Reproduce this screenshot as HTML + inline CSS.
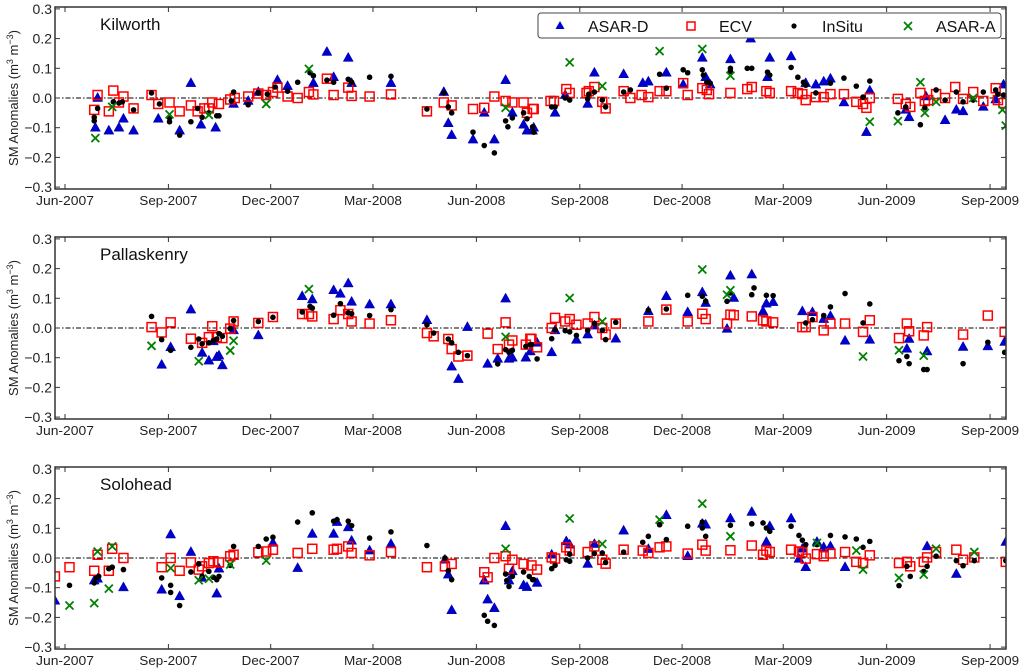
<!DOCTYPE html>
<html><head><meta charset="utf-8"><style>
html,body{margin:0;padding:0;background:#fff;}
svg{display:block;font-family:"Liberation Sans",sans-serif;}
</style></head><body>
<svg id="chart" width="1024" height="670" viewBox="0 0 1024 670" xmlns="http://www.w3.org/2000/svg"></svg>
<script>
// ---------- DATA (day = days since 1 Jun 2007, value = m3/m3 anomaly) ----------
const siteNames = ["Kilworth", "Pallaskenry", "Solohead"];
const xTickDays = [0, 92, 183, 274, 366, 458, 549, 639, 731, 823];
const xTickLabels = ["Jun-2007","Sep-2007","Dec-2007","Mar-2008","Jun-2008","Sep-2008","Dec-2008","Mar-2009","Jun-2009","Sep-2009"];
const yTickValues = [-0.3,-0.2,-0.1,0.0,0.1,0.2,0.3];
const yTickLabels = ["\u22120.3","\u22120.2","\u22120.1","0.0","0.1","0.2","0.3"];

// Kilworth
const k_asarD = [[27,-0.10],[29,0.0],[39,-0.11],[48,-0.10],[52,-0.07],[61,-0.11],[83,-0.07],[102,-0.11],[112,0.05],[121,-0.09],[134,-0.10],[150,-0.02],[163,-0.01],[172,0.02],[189,0.06],[198,0.04],[221,0.05],[233,0.155],[239,0.07],[252,0.135],[255,0.05],[290,0.05],[337,0.02],[341,-0.085],[344,-0.125],[363,-0.14],[373,-0.05],[382,-0.14],[392,0.06],[398,-0.05],[408,-0.09],[411,-0.11],[416,-0.11],[417,-0.10],[436,-0.05],[445,0.01],[465,-0.02],[471,0.085],[497,0.08],[514,0.05],[519,0.055],[535,0.085],[550,0.045],[567,0.135],[570,0.07],[574,0.045],[592,0.13],[610,0.2],[625,0.07],[627,0.135],[646,0.14],[659,0.05],[668,0.045],[675,0.055],[681,0.065],[693,-0.015],[713,-0.115],[716,0.025],[748,-0.04],[751,-0.065],[766,0.005],[783,-0.075],[793,-0.04],[799,-0.045],[817,-0.03],[828,-0.005],[835,0.045]];
const k_ecv = [[26,-0.04],[29,0.01],[39,-0.045],[43,0.025],[48,-0.015],[52,0.005],[61,-0.035],[77,0.01],[83,-0.02],[93,-0.015],[102,-0.045],[112,-0.025],[118,-0.045],[124,-0.035],[128,-0.035],[131,-0.015],[137,-0.02],[147,-0.005],[151,0.0],[163,0.005],[172,0.015],[179,0.01],[185,0.02],[189,0.035],[198,0.005],[207,0.0],[217,0.02],[221,0.012],[233,0.065],[239,0.01],[252,0.035],[255,0.007],[271,0.005],[290,0.012],[322,-0.045],[337,-0.015],[344,-0.025],[363,-0.037],[373,-0.033],[382,0.005],[392,-0.01],[398,-0.015],[408,-0.015],[411,-0.05],[416,-0.037],[417,-0.037],[432,-0.01],[435,-0.01],[446,0.03],[449,0.017],[464,0.017],[466,0.023],[471,0.037],[478,-0.013],[481,-0.035],[497,0.023],[503,0.0],[513,0.01],[519,0.003],[529,0.023],[535,0.023],[550,0.05],[554,0.01],[567,0.033],[571,0.027],[573,0.013],[592,0.017],[607,0.03],[611,0.037],[624,0.023],[627,0.017],[646,0.023],[652,0.017],[656,0.013],[659,-0.007],[668,0.003],[675,0.003],[681,0.013],[693,0.013],[704,-0.013],[710,-0.02],[713,-0.033],[716,0.0],[741,-0.003],[748,-0.02],[752,-0.03],[761,0.017],[765,-0.01],[768,-0.007],[775,0.013],[783,0.0],[792,0.037],[799,-0.003],[808,0.02],[817,-0.01],[828,0.033],[830,-0.007],[835,-0.017]];
const k_insitu = [[26,-0.065],[26,-0.077],[29,-0.035],[43,-0.013],[48,-0.017],[51,-0.013],[61,-0.04],[77,0.017],[84,-0.02],[93,-0.067],[93,-0.08],[102,-0.125],[112,-0.08],[118,-0.035],[122,-0.065],[128,-0.05],[135,-0.06],[137,-0.06],[148,-0.01],[150,0.02],[163,-0.023],[172,0.017],[180,0.013],[187,0.037],[198,0.023],[207,0.053],[218,0.085],[221,0.075],[233,0.06],[239,0.053],[252,0.063],[255,0.053],[271,0.07],[290,0.073],[322,-0.037],[337,0.017],[341,-0.03],[344,-0.05],[363,-0.115],[373,-0.16],[382,-0.185],[392,-0.077],[394,-0.097],[398,-0.067],[408,-0.05],[411,-0.07],[416,-0.097],[417,-0.115],[433,-0.03],[436,-0.03],[445,0.0],[449,-0.007],[465,-0.003],[466,0.013],[471,0.02],[478,-0.007],[481,-0.03],[497,0.02],[503,0.027],[529,0.08],[535,0.033],[550,0.095],[554,0.085],[567,0.095],[568,0.077],[571,0.053],[574,0.05],[592,0.1],[592,0.09],[607,0.1],[611,0.1],[625,0.087],[627,0.077],[646,0.103],[652,0.07],[657,0.053],[659,0.043],[668,0.017],[681,0.05],[693,0.067],[704,0.04],[710,0.003],[716,0.057],[741,-0.05],[748,-0.03],[761,-0.09],[765,-0.033],[775,0.027],[783,-0.007],[793,0.02],[799,-0.013],[808,-0.007],[817,0.02],[828,0.027],[830,0.013],[835,0.01]];
const k_asarA = [[27,-0.135],[42,-0.03],[93,-0.055],[128,-0.057],[179,-0.02],[217,0.098],[392,-0.033],[449,0.12],[478,0.04],[529,0.158],[567,0.165],[592,0.075],[716,-0.08],[741,-0.078],[761,0.053],[765,-0.05],[775,-0.013],[808,0.0],[834,-0.04],[837,-0.093]];

// Pallaskenry
const p_asarD = [[86,-0.124],[94,-0.065],[112,0.062],[122,-0.084],[128,-0.11],[132,-0.045],[135,-0.098],[137,-0.093],[140,-0.126],[150,-0.008],[172,-0.025],[211,0.107],[220,0.096],[239,0.127],[245,0.115],[252,0.15],[255,0.088],[271,0.079],[290,0.079],[322,0.026],[344,-0.13],[350,-0.172],[358,0.003],[376,-0.121],[385,-0.104],[392,0.099],[395,-0.104],[398,-0.1],[410,-0.1],[414,-0.079],[420,-0.05],[433,-0.082],[436,-0.008],[455,-0.04],[465,-0.022],[471,0.008],[490,-0.036],[519,0.056],[535,0.107],[554,0.053],[567,0.12],[570,0.084],[589,-0.003],[592,0.176],[595,0.101],[611,0.18],[621,0.056],[624,0.082],[630,0.087],[656,0.056],[665,0.053],[675,0.03],[681,0.04],[694,-0.043],[716,-0.04],[749,-0.07],[751,-0.037],[767,-0.079],[799,-0.064],[821,-0.062],[836,-0.047]];
const p_ecv = [[77,0.003],[86,-0.015],[94,0.019],[112,-0.036],[122,-0.05],[128,-0.031],[131,0.006],[135,-0.031],[140,-0.034],[147,-0.002],[150,0.022],[172,0.017],[185,0.037],[211,0.047],[217,0.047],[220,0.039],[239,0.03],[245,0.06],[252,0.047],[255,0.022],[271,0.015],[290,0.026],[322,-0.017],[328,-0.028],[341,-0.037],[344,-0.071],[350,-0.096],[358,-0.093],[376,-0.019],[385,-0.071],[392,0.019],[395,-0.056],[398,-0.042],[410,-0.056],[414,-0.036],[415,-0.037],[420,-0.065],[433,0.0],[436,0.034],[445,0.022],[449,0.03],[455,0.011],[465,0.015],[471,0.037],[478,0.0],[481,-0.022],[490,0.015],[519,0.022],[535,0.062],[554,0.022],[567,0.048],[570,0.03],[589,0.015],[592,0.045],[595,0.043],[611,0.039],[621,0.026],[624,0.022],[630,0.019],[656,0.003],[659,0.003],[665,0.037],[675,-0.008],[681,0.015],[694,0.015],[710,-0.013],[716,0.026],[742,-0.034],[749,0.015],[751,-0.011],[764,-0.025],[767,0.003],[799,-0.022],[821,0.042],[836,-0.013]];
const p_insitu = [[77,0.039],[86,-0.039],[94,-0.075],[112,-0.065],[119,-0.037],[122,-0.053],[128,-0.05],[132,-0.042],[135,-0.037],[137,-0.019],[140,-0.028],[147,-0.002],[150,0.025],[172,0.022],[185,0.036],[211,0.054],[218,0.073],[220,0.067],[239,0.043],[245,0.082],[252,0.051],[255,0.048],[271,0.042],[290,0.062],[322,0.011],[328,-0.017],[341,-0.037],[344,-0.05],[350,-0.082],[358,-0.093],[385,-0.121],[392,-0.073],[395,-0.082],[398,-0.075],[410,-0.062],[414,-0.056],[415,-0.056],[420,-0.104],[433,-0.036],[436,-0.006],[445,-0.009],[449,-0.013],[455,-0.025],[465,-0.008],[471,0.015],[478,-0.008],[481,-0.039],[490,0.019],[519,0.06],[535,0.064],[554,0.11],[567,0.107],[570,0.09],[589,0.09],[592,0.118],[611,0.112],[613,0.135],[624,0.11],[630,0.109],[659,0.017],[665,0.028],[675,0.042],[681,0.071],[694,0.116],[710,0.017],[716,0.081],[742,-0.11],[749,-0.096],[751,-0.12],[764,-0.14],[767,-0.14],[799,-0.12],[821,-0.048],[836,-0.082]];
const p_asarA = [[77,-0.06],[119,-0.112],[147,-0.076],[150,-0.043],[217,0.131],[392,-0.03],[449,0.101],[478,0.022],[567,0.197],[592,0.127],[589,0.112],[710,-0.096],[742,-0.075],[764,-0.093]];

// Solohead
const s_asarD = [[-9,-0.144],[26,-0.076],[29,-0.07],[52,-0.099],[86,-0.107],[94,0.079],[102,-0.129],[112,0.02],[122,-0.067],[135,-0.12],[137,-0.036],[185,0.051],[207,-0.034],[220,0.081],[239,0.081],[242,0.121],[252,0.103],[255,0.058],[271,0.025],[290,0.047],[338,-0.006],[341,-0.056],[344,-0.176],[373,-0.076],[376,-0.14],[382,-0.169],[392,0.107],[395,-0.076],[398,-0.045],[408,-0.092],[411,-0.098],[420,-0.084],[433,0.011],[446,0.056],[449,0.045],[465,-0.02],[471,0.047],[497,0.092],[519,0.03],[535,0.144],[554,0.006],[567,0.115],[570,0.112],[592,0.133],[611,0.155],[624,0.054],[627,0.107],[646,0.133],[653,-0.003],[656,0.031],[659,-0.031],[669,0.054],[675,0.036],[681,0.039],[694,-0.031],[767,0.039],[793,-0.054],[837,0.054]];
const s_ecv = [[-9,-0.062],[4,-0.031],[26,-0.043],[29,0.011],[39,-0.043],[42,0.031],[52,0.0],[86,-0.031],[94,0.0],[102,-0.043],[112,-0.015],[119,-0.039],[122,-0.028],[128,-0.017],[132,-0.011],[137,-0.015],[147,0.006],[150,0.011],[172,0.019],[179,0.022],[185,0.028],[207,0.017],[220,0.031],[239,0.028],[242,0.031],[252,0.039],[255,0.017],[271,0.009],[290,0.02],[322,-0.031],[338,-0.028],[344,-0.02],[373,-0.048],[376,-0.065],[382,0.0],[392,0.006],[395,-0.036],[398,-0.006],[408,-0.02],[415,-0.025],[420,-0.039],[433,0.002],[436,-0.002],[446,0.036],[449,0.025],[465,0.02],[471,0.039],[478,-0.006],[481,-0.019],[497,0.028],[514,0.025],[519,0.017],[529,0.036],[535,0.039],[554,0.015],[567,0.045],[570,0.025],[592,0.026],[611,0.042],[621,0.011],[624,0.025],[627,0.02],[646,0.028],[653,0.022],[656,0.019],[659,-0.002],[669,0.013],[675,0.006],[681,0.015],[694,0.02],[704,-0.013],[710,-0.017],[716,0.009],[742,-0.017],[749,-0.013],[752,-0.028],[764,-0.013],[767,0.002],[775,0.02],[793,0.028],[799,-0.006],[809,0.002],[837,-0.013]];
const s_insitu = [[4,-0.092],[26,-0.084],[28,-0.067],[30,-0.062],[39,-0.036],[42,-0.031],[52,-0.039],[86,-0.067],[94,-0.092],[94,-0.116],[102,-0.16],[112,-0.047],[119,-0.02],[122,-0.062],[128,-0.045],[132,-0.065],[135,-0.073],[137,-0.062],[147,-0.025],[150,0.039],[172,0.039],[179,0.064],[185,0.07],[207,0.121],[220,0.152],[239,0.124],[242,0.129],[252,0.124],[255,0.109],[271,0.067],[290,0.088],[322,0.042],[338,0.0],[341,-0.043],[344,-0.073],[373,-0.193],[376,-0.213],[382,-0.227],[392,-0.054],[393,-0.076],[395,-0.096],[398,-0.062],[408,-0.047],[413,-0.062],[416,-0.073],[417,-0.073],[433,-0.036],[436,-0.025],[446,-0.006],[449,-0.011],[449,0.013],[465,0.0],[471,0.015],[478,0.017],[481,-0.015],[497,0.02],[514,0.053],[519,0.073],[529,0.112],[535,0.062],[554,0.107],[567,0.121],[567,0.101],[570,0.073],[592,0.11],[611,0.115],[621,0.118],[624,0.101],[627,0.09],[646,0.107],[653,0.076],[656,0.06],[659,0.045],[669,0.045],[681,0.076],[694,0.071],[704,0.064],[710,0.036],[716,0.056],[742,-0.093],[749,-0.028],[752,-0.062],[764,-0.045],[767,-0.028],[775,0.006],[793,-0.009],[799,-0.026],[809,-0.009],[837,-0.009]];
const s_asarA = [[4,-0.16],[26,-0.152],[29,0.022],[39,-0.103],[42,0.039],[94,-0.034],[119,-0.075],[128,-0.07],[147,-0.022],[179,-0.009],[392,0.031],[449,0.133],[478,0.047],[529,0.129],[567,0.183],[592,0.073],[669,0.051],[704,0.025],[710,-0.039],[742,-0.067],[764,-0.056],[775,0.031],[809,0.02]];

const panelSeries = [
  {asarD:k_asarD, ecv:k_ecv, insitu:k_insitu, asarA:k_asarA},
  {asarD:p_asarD, ecv:p_ecv, insitu:p_insitu, asarA:p_asarA},
  {asarD:s_asarD, ecv:s_ecv, insitu:s_insitu, asarA:s_asarA}
];

// ---------- LAYOUT ----------
const NS = "http://www.w3.org/2000/svg";
const svg = document.getElementById('chart');
const L = 55, R = 1006, PX0 = 65, PXD = 1.124;
const panelOffsets = [0, 230, 460];
function xScale(d){ return PX0 + d*PXD; }
function yScale(v, off){ return 98 + off - v*297; }
function mk(tag, attrs, parent){
  const e = document.createElementNS(NS, tag);
  for (const k in attrs) e.setAttribute(k, attrs[k]);
  (parent||svg).appendChild(e);
  return e;
}

panelOffsets.forEach((off, pi) => {
  const g = mk('g', {});
  
  
  const top = 7 + off, bot = 189 + off;
  const cp = mk('clipPath', {id:'clip'+pi}, g);
  mk('rect', {x:L, y:top, width:R-L, height:bot-top}, cp);

  // zero line
  const zl = mk('line', {x1:L, x2:R, y1:yScale(0,off), y2:yScale(0,off), stroke:'#000', 'stroke-width':1, 'stroke-dasharray':'5,2,1.5,2'}, g);
  
  

  // markers
  const mg = mk('g', {'clip-path':'url(#clip'+pi+')'}, g);
  
  
  const s = panelSeries[pi];
  s.asarD.forEach(p => {
    const x = xScale(p[0]), y = yScale(p[1], off);
    const t = mk('polygon', {points:`${x},${y-5.5} ${x-5},${y+3.5} ${x+5},${y+3.5}`, fill:'#0000cc', stroke:'#0000aa', 'stroke-width':0.5}, mg);
    
    
  });
  s.ecv.forEach(p => {
    const x = xScale(p[0]), y = yScale(p[1], off);
    const r = mk('rect', {x:x-4.5, y:y-4.5, width:9, height:9, fill:'none', stroke:'#ff0000', 'stroke-width':1.5}, mg);
    
    
  });
  s.insitu.forEach(p => {
    const c = mk('circle', {cx:xScale(p[0]), cy:yScale(p[1], off), r:2.8, fill:'#000'}, mg);
    
    
  });
  s.asarA.forEach(p => {
    const x = xScale(p[0]), y = yScale(p[1], off);
    const c = mk('path', {d:`M${x-4},${y-4}L${x+4},${y+4}M${x-4},${y+4}L${x+4},${y-4}`, stroke:'#008000', 'stroke-width':1.8, fill:'none'}, mg);
    
    
  });

  // frame
  const fr = mk('rect', {x:L, y:top, width:R-L, height:bot-top, fill:'none', stroke:'#333', 'stroke-width':1.5}, g);
  
  

  // y ticks
  yTickValues.forEach((v, i) => {
    const y = yScale(v, off);
    mk('line', {x1:L, x2:L+5, y1:y, y2:y, stroke:'#333'}, g);
    mk('line', {x1:R-5, x2:R, y1:y, y2:y, stroke:'#333'}, g);
    const t = mk('text', {x:L-3, y:y+5, 'text-anchor':'end', 'font-size':14, fill:'#222'}, g);
    t.textContent = yTickLabels[i];
    
    
  });
  // x ticks
  xTickDays.forEach((d, i) => {
    const x = xScale(d);
    mk('line', {x1:x, x2:x, y1:bot, y2:bot-5, stroke:'#333'}, g);
    mk('line', {x1:x, x2:x, y1:top, y2:top+5, stroke:'#333'}, g);
    const t = mk('text', {x:x, y:bot+16, 'text-anchor':'middle', 'font-size':13, fill:'#222', textLength:58, lengthAdjust:'spacingAndGlyphs'}, g);
    t.textContent = xTickLabels[i];
    
    
  });

  // site title
  const st = mk('text', {x:100, y:top+23, 'font-size':17, fill:'#111'}, g);
  st.textContent = siteNames[pi];
  
  

  // y-axis title
  const cy = (top+bot)/2;
  const yt = mk('text', {x:0, y:0, 'font-size':13, fill:'#222', 'text-anchor':'middle', transform:`translate(18,${cy}) rotate(-90)`}, g);
  yt.innerHTML = 'SM Anomalies (m<tspan dy="-5" font-size="9">3</tspan><tspan dy="5"> m</tspan><tspan dy="-5" font-size="9">\u22123</tspan><tspan dy="5">)</tspan>';
  
  
});

// legend
const lg = mk('g', {});


mk('rect', {x:538, y:13, width:463, height:25, rx:3, fill:'#fff', stroke:'#444', 'stroke-width':1}, lg);
const legendItems = [
  {name:'ASAR-D', x:560, kind:'tri'},
  {name:'ECV', x:691, kind:'sq'},
  {name:'InSitu', x:794, kind:'dot'},
  {name:'ASAR-A', x:908, kind:'x'}
];
legendItems.forEach(it => {
  const e = mk('g', {}, lg);
  
  
  const x = it.x, y = 26;
  if (it.kind==='tri') mk('polygon', {points:`${x},${y-5} ${x-4.5},${y+3} ${x+4.5},${y+3}`, fill:'#0000cc'}, e);
  if (it.kind==='sq') mk('rect', {x:x-4, y:y-4, width:8, height:8, fill:'none', stroke:'#f00', 'stroke-width':1.5}, e);
  if (it.kind==='dot') mk('circle', {cx:x, cy:y, r:2.6, fill:'#000'}, e);
  if (it.kind==='x') mk('path', {d:`M${x-4},${y-4}L${x+4},${y+4}M${x-4},${y+4}L${x+4},${y-4}`, stroke:'#008000', 'stroke-width':1.8}, e);
  const t = mk('text', {x:x+28, y:y+6, 'font-size':16, fill:'#111'}, e);
  t.textContent = it.name;
});
</script>
</body></html>
